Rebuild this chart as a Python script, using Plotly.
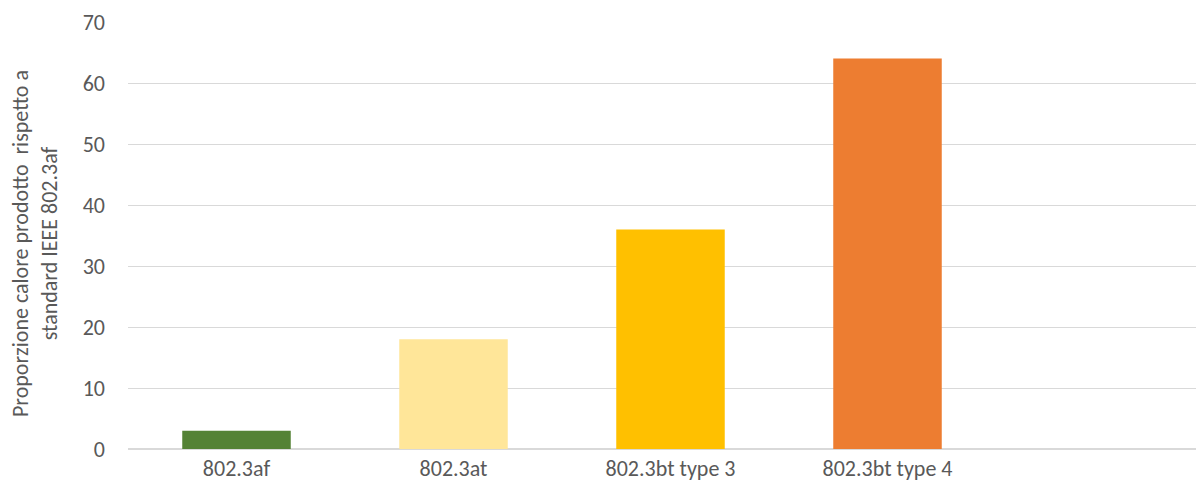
import plotly.graph_objects as go

categories = ["802.3af", "802.3at", "802.3bt type 3", "802.3bt type 4"]
values = [3, 18, 36, 64]
colors = ["#548235", "#FFE699", "#FFC000", "#ED7D31"]
y_ticks = [0, 10, 20, 30, 40, 50, 60, 70]
y_title = "Proporzione calore prodotto  rispetto a<br>standard IEEE 802.3af"

font_family = "Carlito, Calibri, Lato, 'Open Sans', sans-serif"
text_color = "#595959"
fsize = 22

positions = list(range(len(categories)))

W, H = 1188, 474
L, R, T, B = 120, 0, 14, 33
plot_w = W - L - R

fig = go.Figure()
fig.add_trace(go.Bar(
    x=positions,
    y=values,
    marker=dict(color=colors, line=dict(width=0)),
    width=0.5,
    hoverinfo="skip",
))

fig.update_layout(
    width=W,
    height=H,
    margin=dict(l=L, r=R, t=T, b=B),
    plot_bgcolor="white",
    paper_bgcolor="white",
    showlegend=False,
    font=dict(family=font_family, color=text_color, size=fsize),
    xaxis=dict(
        range=[-0.5, -0.5 + plot_w / 217.0],
        tickvals=positions,
        ticktext=categories,
        showgrid=False,
        zeroline=False,
        showline=False,
        ticks="",
        tickfont=dict(size=fsize, color=text_color),
        ticklabelstandoff=4,
    ),
    yaxis=dict(
        range=[0, 70],
        tickvals=y_ticks,
        showgrid=True,
        gridcolor="#D9D9D9",
        gridwidth=1.3,
        zeroline=True,
        zerolinecolor="#D9D9D9",
        zerolinewidth=2,
        showline=False,
        ticks="",
        tickfont=dict(size=fsize, color=text_color),
        ticklabelstandoff=22,
    ),
    annotations=[dict(
        text=y_title,
        xref="paper", yref="paper",
        x=(27 - L) / plot_w, y=0.48,
        xanchor="center", yanchor="middle",
        textangle=-90,
        showarrow=False,
        font=dict(size=fsize, color=text_color, family=font_family),
    )],
)

fig.write_html("out.html")
